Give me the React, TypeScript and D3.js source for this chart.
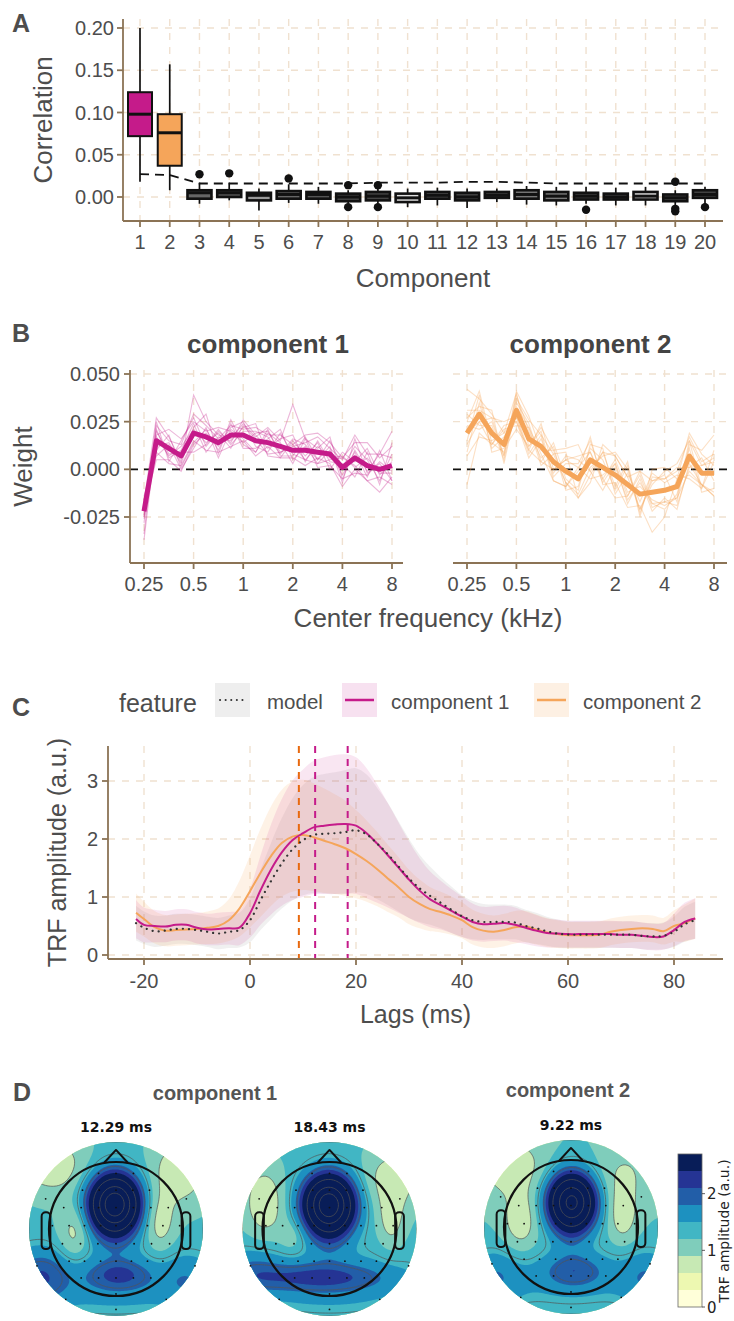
import React from 'react';
import * as d3 from 'd3';

const SANS = 'Liberation Sans, Arial, Helvetica, sans-serif';
const MPL = 'DejaVu Sans, sans-serif';
const TXT = '#4d4d4d';
const AXIS = '#8b7355';
const GRID = '#f0e1d0';
const MAGENTA = '#c51b8a';
const ORANGE = '#f5a55a';
const ORANGE_DARK = '#e8690f';

// ---- A: correlation per component
const components = [1, 2, 3, 4, 5, 6, 7, 8, 9, 10, 11, 12, 13, 14, 15, 16, 17, 18, 19, 20];
const corrLow = [0.018, 0.008, -0.008, -0.004, -0.016, -0.007, -0.008, -0.008, -0.008, -0.012, -0.01, -0.013, -0.006, -0.009, -0.01, -0.008, -0.01, -0.01, -0.01, -0.009];
const corrQ1 = [0.072, 0.037, -0.002, 0.0, -0.004, -0.002, -0.002, -0.005, -0.004, -0.006, -0.002, -0.004, -0.001, -0.002, -0.004, -0.003, -0.003, -0.003, -0.005, -0.001];
const corrMedian = [0.098, 0.076, 0.005, 0.005, 0.002, 0.003, 0.003, 0.0, 0.001, -0.001, 0.002, 0.0, 0.002, 0.003, 0.001, 0.001, 0.0, 0.001, -0.001, 0.003];
const corrQ3 = [0.124, 0.098, 0.008, 0.008, 0.005, 0.007, 0.006, 0.004, 0.006, 0.004, 0.006, 0.005, 0.006, 0.008, 0.006, 0.005, 0.004, 0.006, 0.003, 0.008];
const corrHigh = [0.2, 0.157, 0.017, 0.017, 0.01, 0.015, 0.012, 0.008, 0.01, 0.01, 0.011, 0.01, 0.01, 0.013, 0.012, 0.012, 0.011, 0.012, 0.008, 0.012];
const boxFills = [MAGENTA, ORANGE, '#666', '#555', '#999', '#666', '#555', '#444', '#444', '#e0e0e0', '#555', '#444', '#444', '#777', '#777', '#444', '#444', '#d9d9d9', '#444', '#444'];
const outlierComp = [3, 4, 6, 8, 8, 9, 9, 16, 19, 19, 19, 20];
const outlierVal = [0.027, 0.028, 0.022, 0.014, -0.012, 0.014, -0.012, -0.015, 0.018, -0.014, -0.017, -0.012];
const chanceLevel = [0.027, 0.026, 0.016, 0.016, 0.016, 0.016, 0.016, 0.016, 0.017, 0.017, 0.017, 0.018, 0.018, 0.017, 0.016, 0.016, 0.016, 0.016, 0.016, 0.016];
const corrTicks = [0, 0.05, 0.1, 0.15, 0.2];

// ---- B: spectral weights
const freqs = [0.25, 0.297, 0.354, 0.42, 0.5, 0.595, 0.707, 0.841, 1, 1.19, 1.41, 1.68, 2, 2.38, 2.83, 3.36, 4, 4.76, 5.66, 6.73, 8];
const freqTicks = [0.25, 0.5, 1, 2, 4, 8];
const weightTicks = [-0.025, 0, 0.025, 0.05];
const weightMean1 = [-0.022, 0.015, 0.011, 0.007, 0.019, 0.017, 0.014, 0.018, 0.018, 0.015, 0.014, 0.012, 0.01, 0.01, 0.009, 0.008, 0.001, 0.006, 0.002, 0.0, 0.002];
const weightMean2 = [0.019, 0.029, 0.019, 0.013, 0.031, 0.016, 0.012, 0.004, -0.001, -0.005, 0.005, 0.001, -0.003, -0.008, -0.013, -0.012, -0.011, -0.009, 0.007, -0.002, -0.002];
// single subjects, deviation from the mean in 1e-3
const subjDev1 = [
  [-12, 8, 4, 6, 10, 6, 2, 5, 3, 7, 4, 6, 3, 8, 10, 6, 5, 8, 12, 6, 10],
  [5, 12, 6, -3, 20, 8, 4, -2, 6, 2, 8, 3, 24, 6, 2, 9, -6, 4, -3, 8, 18],
  [8, -6, -8, -5, -4, -7, -5, -6, -3, -8, -2, -6, -4, -8, -3, -5, -10, -6, -8, -12, -6],
  [-4, 3, 10, 9, 6, 3, 8, 2, -4, 4, 6, -3, 2, 4, 8, 3, 4, 12, 6, 8, 4],
  [2, -10, -6, -8, -6, 2, -2, 4, 7, -3, -5, 7, -2, -5, -6, -3, 5, -4, -8, -4, -10],
  [-6, 5, -3, 2, -10, -4, 7, -5, 2, 5, 3, -4, 6, 3, -4, 7, 0, 6, 3, -6, 6],
  [6, -3, 3, -4, 3, 12, -6, 8, -5, -6, 5, 2, -7, 6, -8, -6, -6, -8, -5, 4, -3],
  [-2, 6, -5, 3, 5, -8, 3, -3, 4, 9, -7, -6, 5, -3, 5, -8, 8, -2, 9, -3, 2],
  [4, -5, 7, -6, -5, 4, -4, 6, -7, -4, 2, 9, -5, 2, -6, 2, -4, 3, -6, 10, -8],
  [-15, 2, -4, 5, 2, -3, 5, -7, 5, 1, -6, -3, 3, -5, 3, -2, 6, -5, 4, -2, -4],
  [6, -8, 2, -7, -8, 5, -8, 3, -2, -6, 7, -5, -3, 7, -4, 4, -8, 10, -4, 3, -8],
  [-3, 10, -7, 8, 8, -5, 6, -4, 8, 3, -3, 4, 8, -6, 6, -4, 2, -10, 7, -8, 12],
];
const subjDev2 = [
  [23, 8, 10, 6, 9, -4, 10, 6, 12, 18, -6, 8, 10, 4, 12, 6, 8, -8, 6, 12, 20],
  [-27, -10, -6, 8, -8, 6, -4, -10, -8, 4, 12, -9, -4, -12, -6, -21, -14, 4, -10, -6, -12],
  [6, 12, -5, -4, 6, 10, 6, 4, -6, -8, -4, 6, 12, 8, -8, 4, 10, 12, 8, 4, 6],
  [-6, -4, 8, 12, -3, -6, 12, -4, 6, 6, -10, -4, 6, -6, 10, -8, -6, -10, -6, 8, -4],
  [10, -6, 4, -8, 4, 8, -8, 10, -4, -6, 8, 10, -10, 6, -4, 10, 4, 6, -12, -8, 6],
  [-10, 6, -8, 4, -6, -10, 4, -6, 8, 10, -6, -12, 4, -8, 6, -6, -10, -4, 4, -10, -8],
  [4, -8, 6, -6, 8, 4, -6, 8, -10, -4, 6, 4, -8, 10, -10, 8, 6, 8, 10, 6, 10],
  [-4, 10, -10, -2, -10, -4, 8, -8, 4, 8, 10, -6, 8, -4, 4, -4, -8, -6, -8, -6, -10],
  [8, 4, 12, -10, 2, 6, -10, 4, 10, -10, -8, 8, -6, 12, -12, 12, 12, 4, 12, 10, 4],
  [-12, -12, -4, 6, -4, -8, 6, -10, -8, 6, 4, -8, 6, -10, 8, -10, -4, -12, -4, -6, -12],
  [12, 2, 8, -6, 10, 12, -2, 6, -6, -10, -12, 12, 10, 4, -8, 6, 6, 10, -6, 4, 8],
  [0, -4, -6, 10, -6, -6, -8, -4, 6, 12, 4, -6, -12, -6, 12, -6, -6, -6, 8, -8, 12],
];

// ---- C: TRFs
const lags = [-21.5, -20, -18, -16, -14, -12, -10, -8, -6, -4, -2, 0, 2, 4, 6, 8, 10, 12, 14, 16, 18, 20, 22, 24, 26, 28, 30, 32, 34, 36, 38, 40, 42, 44, 46, 48, 50, 52, 54, 56, 58, 60, 62, 64, 66, 68, 70, 72, 74, 76, 78, 80, 82, 84];
const trfModel = [0.55, 0.47, 0.41, 0.42, 0.45, 0.45, 0.43, 0.4, 0.37, 0.4, 0.43, 0.6, 0.95, 1.28, 1.58, 1.82, 1.98, 2.07, 2.09, 2.1, 2.12, 2.15, 2.08, 1.92, 1.74, 1.53, 1.32, 1.15, 1.02, 0.9, 0.78, 0.67, 0.6, 0.57, 0.57, 0.57, 0.56, 0.5, 0.46, 0.41, 0.37, 0.35, 0.35, 0.35, 0.35, 0.35, 0.35, 0.35, 0.33, 0.32, 0.33, 0.4, 0.53, 0.6];
const sdModel = [0.3, 0.28, 0.27, 0.26, 0.26, 0.26, 0.26, 0.26, 0.27, 0.28, 0.3, 0.38, 0.52, 0.66, 0.78, 0.88, 0.95, 1.0, 1.03, 1.05, 1.07, 1.07, 1.03, 0.96, 0.88, 0.78, 0.68, 0.58, 0.5, 0.44, 0.4, 0.36, 0.33, 0.31, 0.3, 0.3, 0.29, 0.28, 0.27, 0.25, 0.24, 0.23, 0.23, 0.23, 0.23, 0.23, 0.23, 0.23, 0.23, 0.23, 0.23, 0.26, 0.3, 0.32];
const trfComp1 = [0.62, 0.52, 0.5, 0.49, 0.52, 0.52, 0.47, 0.44, 0.45, 0.46, 0.47, 0.72, 1.12, 1.48, 1.77, 1.98, 2.1, 2.2, 2.23, 2.25, 2.26, 2.23, 2.1, 1.92, 1.72, 1.51, 1.3, 1.11, 0.96, 0.86, 0.76, 0.66, 0.57, 0.53, 0.54, 0.55, 0.52, 0.47, 0.42, 0.38, 0.37, 0.36, 0.36, 0.36, 0.36, 0.36, 0.35, 0.35, 0.33, 0.31, 0.32, 0.43, 0.57, 0.63];
const sdComp1 = [0.33, 0.3, 0.28, 0.27, 0.27, 0.27, 0.27, 0.27, 0.28, 0.28, 0.3, 0.42, 0.6, 0.78, 0.92, 1.03, 1.1, 1.15, 1.18, 1.2, 1.2, 1.18, 1.12, 1.02, 0.9, 0.78, 0.66, 0.56, 0.48, 0.42, 0.38, 0.35, 0.32, 0.3, 0.3, 0.3, 0.3, 0.28, 0.27, 0.25, 0.24, 0.23, 0.23, 0.23, 0.23, 0.23, 0.23, 0.23, 0.23, 0.23, 0.23, 0.28, 0.33, 0.35];
const trfComp2 = [0.73, 0.62, 0.48, 0.42, 0.43, 0.44, 0.45, 0.47, 0.5, 0.6, 0.8, 1.1, 1.42, 1.71, 1.93, 2.04, 2.07, 2.03, 1.97, 1.91, 1.84, 1.74, 1.62, 1.48, 1.32, 1.17, 1.0, 0.88, 0.79, 0.74, 0.68, 0.6, 0.48, 0.42, 0.4, 0.43, 0.48, 0.49, 0.44, 0.39, 0.36, 0.34, 0.34, 0.34, 0.35, 0.4, 0.43, 0.45, 0.46, 0.45, 0.41, 0.5, 0.55, 0.63];
const sdComp2 = [0.33, 0.3, 0.28, 0.27, 0.27, 0.27, 0.27, 0.28, 0.3, 0.36, 0.48, 0.62, 0.76, 0.86, 0.92, 0.95, 0.95, 0.93, 0.9, 0.86, 0.82, 0.76, 0.7, 0.64, 0.58, 0.52, 0.47, 0.42, 0.38, 0.35, 0.33, 0.31, 0.3, 0.29, 0.28, 0.28, 0.28, 0.27, 0.26, 0.25, 0.24, 0.23, 0.23, 0.23, 0.23, 0.23, 0.23, 0.23, 0.23, 0.23, 0.23, 0.27, 0.32, 0.35];
const peakLags = [9.22, 12.29, 18.43];
const peakColors = [ORANGE_DARK, MAGENTA, MAGENTA];
const lagTicks = [-20, 0, 20, 40, 60, 80];
const ampTicks = [0, 1, 2, 3];
const legendLabels = ['model', 'component 1', 'component 2'];

// ---- D: topographies (field = base + gaussian bumps: cx, cy, amp, sx, sy in head radii)
const topoTitles = ['12.29 ms', '18.43 ms', '9.22 ms'];
const topoBase = [1.25, 1.25, 1.2];
const topoBlobs = [
  [
    [-0.02, -0.37, 3.9, 0.256, 0.3], [0, 0.15, 0.15, 0.2, 0.25],
    [0, 0.78, 0.45, 0.9, 0.33], [0.05, 0.68, 0.55, 0.3, 0.15],
    [-1.15, 0.72, 0.7, 0.3, 0.3], [1.1, 0.8, 0.35, 0.28, 0.3],
    [-0.95, -0.95, -0.6, 0.35, 0.3], [0.95, -0.85, -0.6, 0.3, 0.35],
    [-0.62, 0.05, -0.5, 0.16, 0.3], [0.65, -0.1, -0.55, 0.16, 0.32],
  ],
  [
    [-0.01, -0.36, 3.9, 0.256, 0.3], [0, 0.15, 0.15, 0.2, 0.25],
    [0, 0.78, 0.42, 0.9, 0.33], [-0.2, 0.72, 0.6, 0.75, 0.15],
    [-1.15, 0.6, 0.4, 0.3, 0.25],
    [-0.97, -0.4, -0.65, 0.2, 0.35], [0.95, -0.75, -0.55, 0.3, 0.3],
    [0.92, -0.15, -0.5, 0.14, 0.3], [-0.55, 0.1, -0.3, 0.15, 0.2],
  ],
  [
    [0.01, -0.37, 3.6, 0.24, 0.29], [0, 0.15, 0.15, 0.2, 0.25],
    [0, 0.78, 0.35, 0.8, 0.33], [0.05, 0.65, 0.55, 0.32, 0.18],
    [-1.15, 0.75, 0.5, 0.3, 0.3], [1.15, 0.75, 0.5, 0.3, 0.3],
    [-0.9, -0.9, -0.55, 0.35, 0.3], [0.8, -0.8, -0.3, 0.3, 0.3],
    [-0.75, -0.1, -0.55, 0.18, 0.32], [0.77, -0.2, -0.55, 0.15, 0.3],
  ],
];
const topoLines = [0.9, 1.4, 1.9, 3.0, 3.9, 4.6];
const sensorRows: [number, number[]][] = [
  [-0.83, [-0.26, 0, 0.26]],
  [-0.58, [-0.5, -0.25, 0, 0.25, 0.5]],
  [-0.32, [-0.78, -0.52, -0.26, 0, 0.26, 0.52, 0.78]],
  [-0.05, [-0.95, -0.7, -0.47, -0.23, 0, 0.23, 0.47, 0.7, 0.95]],
  [0.22, [-0.8, -0.53, -0.27, 0, 0.27, 0.53, 0.8]],
  [0.48, [-0.7, -0.47, -0.23, 0, 0.23, 0.47, 0.7]],
  [0.73, [-0.52, -0.26, 0, 0.26, 0.52]],
  [0.97, [-0.25, 0, 0.25]],
];
const extraSensors = [[-1.05, -0.45], [1.05, -0.45], [-1.18, 0.55], [1.18, 0.55], [-0.75, 1.05], [0.75, 1.05], [0, 1.2]];
const cbarLevels = [0, 0.3, 0.6, 0.9, 1.2, 1.5, 1.8, 2.1, 2.4, 2.7];
const cbarColors = ['#ffffd9', '#edf8b1', '#c7e9b4', '#7fcdbb', '#41b6c4', '#1d91c0', '#225ea8', '#253494', '#081d58'];
const cbarTicks = [0, 1, 2];

const grid = { stroke: GRID, strokeWidth: 1.4, strokeDasharray: '7,7' };
const axisLine = { stroke: AXIS, strokeWidth: 1.8 };

function PanelA() {
  const x = d3.scaleLinear().domain([1, 20]).range([140, 705]);
  const y = d3.scaleLinear().domain([0, 0.2]).range([197, 28]);
  const left = 123, right = 723, top = 19, bottom = 221;
  const bw = 24;
  const chance = d3.line<number>().x((_, i) => x(components[i])).y((d) => y(d));
  return (
    <g>
      <text x={12} y={32} fontSize={25} fontWeight="bold" fill={TXT}>A</text>
      {corrTicks.map((t) => <line key={t} x1={left} x2={right} y1={y(t)} y2={y(t)} {...grid} />)}
      {components.map((c) => <line key={c} x1={x(c)} x2={x(c)} y1={top} y2={bottom} {...grid} />)}
      {components.map((c, i) => (
        <g key={c}>
          <line x1={x(c)} x2={x(c)} y1={y(corrHigh[i])} y2={y(corrLow[i])} stroke="#111" strokeWidth={1.7} />
          <rect x={x(c) - bw / 2} width={bw} y={y(corrQ3[i])} height={y(corrQ1[i]) - y(corrQ3[i])} fill={boxFills[i]} stroke="#111" strokeWidth={i < 2 ? 2 : 2.6} />
          <line x1={x(c) - bw / 2} x2={x(c) + bw / 2} y1={y(corrMedian[i])} y2={y(corrMedian[i])} stroke="#111" strokeWidth={3} />
        </g>
      ))}
      {outlierComp.map((c, i) => <circle key={i} cx={x(c)} cy={y(outlierVal[i])} r={4.2} fill="#111" />)}
      <path d={chance(chanceLevel) || ''} fill="none" stroke="#111" strokeWidth={1.8} strokeDasharray="9,6" />
      <line x1={left} x2={left} y1={top} y2={bottom} {...axisLine} />
      <line x1={left} x2={right} y1={bottom} y2={bottom} {...axisLine} />
      {corrTicks.map((t) => (
        <g key={t}>
          <line x1={left - 6} x2={left} y1={y(t)} y2={y(t)} {...axisLine} />
          <text x={left - 9} y={y(t) + 7} fontSize={20} textAnchor="end" fill={TXT}>{t.toFixed(2)}</text>
        </g>
      ))}
      {components.map((c) => (
        <g key={c}>
          <line x1={x(c)} x2={x(c)} y1={bottom} y2={bottom + 6} {...axisLine} />
          <text x={x(c)} y={249} fontSize={20} textAnchor="middle" fill={TXT}>{c}</text>
        </g>
      ))}
      <text x={(left + right) / 2} y={287} fontSize={26} textAnchor="middle" fill={TXT}>Component</text>
      <text transform={`translate(52,${(top + bottom) / 2}) rotate(-90)`} fontSize={26} textAnchor="middle" fill={TXT}>Correlation</text>
    </g>
  );
}

function PanelB() {
  const y = d3.scaleLinear().domain([-0.025, 0.05]).range([517, 374]);
  const top = 370, bottom = 563;
  const panels = [
    { x0: 130, x1: 403, r: [144, 392], title: 'component 1', mean: weightMean1, devs: subjDev1, color: MAGENTA, op: 0.32 },
    { x0: 453, x1: 727, r: [467, 714], title: 'component 2', mean: weightMean2, devs: subjDev2, color: ORANGE, op: 0.35 },
  ];
  return (
    <g>
      <text x={12} y={342} fontSize={25} fontWeight="bold" fill={TXT}>B</text>
      {panels.map((p, k) => {
        const x = d3.scaleLog().base(2).domain([0.25, 8]).range(p.r);
        const line = d3.line<number>().x((_, i) => x(freqs[i])).y((d) => y(d));
        return (
          <g key={k}>
            {weightTicks.map((t) => <line key={t} x1={p.x0} x2={p.x1} y1={y(t)} y2={y(t)} {...grid} />)}
            {freqTicks.map((f) => <line key={f} x1={x(f)} x2={x(f)} y1={top} y2={bottom} {...grid} />)}
            <line x1={p.x0} x2={p.x1} y1={y(0)} y2={y(0)} stroke="#111" strokeWidth={1.8} strokeDasharray="8,6" />
            {p.devs.map((dv, s) => (
              <path key={s} d={line(p.mean.map((m, i) => m + dv[i] / 1000)) || ''} fill="none" stroke={p.color} strokeOpacity={p.op} strokeWidth={1.1} />
            ))}
            <path d={line(p.mean) || ''} fill="none" stroke={p.color} strokeWidth={5} strokeLinejoin="round" />
            <line x1={p.x0} x2={p.x1} y1={bottom} y2={bottom} {...axisLine} />
            {freqTicks.map((f) => (
              <g key={f}>
                <line x1={x(f)} x2={x(f)} y1={bottom} y2={bottom + 6} {...axisLine} />
                <text x={x(f)} y={591} fontSize={20} textAnchor="middle" fill={TXT}>{f}</text>
              </g>
            ))}
            <text x={(p.r[0] + p.r[1]) / 2} y={353} fontSize={26} fontWeight="bold" textAnchor="middle" fill="#444">{p.title}</text>
          </g>
        );
      })}
      <line x1={130} x2={130} y1={top} y2={bottom} {...axisLine} />
      {weightTicks.map((t) => (
        <g key={t}>
          <line x1={124} x2={130} y1={y(t)} y2={y(t)} {...axisLine} />
          <text x={120} y={y(t) + 7} fontSize={20} textAnchor="end" fill={TXT}>{t.toFixed(3)}</text>
        </g>
      ))}
      <text x={428} y={627} fontSize={26} textAnchor="middle" fill={TXT}>Center frequency (kHz)</text>
      <text transform={`translate(32,${(top + bottom) / 2}) rotate(-90)`} fontSize={26} textAnchor="middle" fill={TXT}>Weight</text>
    </g>
  );
}

function PanelC() {
  const x = d3.scaleLinear().domain([-20, 80]).range([144, 674]);
  const y = d3.scaleLinear().domain([0, 3]).range([955, 781]);
  const left = 108, right = 723, top = 746, bottom = 959;
  const line = d3.line<number>().x((_, i) => x(lags[i])).y((d) => y(d)).curve(d3.curveCatmullRom);
  const band = (m: number[], sd: number[]) =>
    d3.area<number>().x((_, i) => x(lags[i])).y0((d, i) => y(d - sd[i])).y1((d, i) => y(d + sd[i])).curve(d3.curveCatmullRom)(m) || '';
  const series = [
    { mean: trfModel, sd: sdModel, color: '#444', fill: '#8a8a8a', op: 0.13 },
    { mean: trfComp2, sd: sdComp2, color: ORANGE, fill: ORANGE, op: 0.15 },
    { mean: trfComp1, sd: sdComp1, color: MAGENTA, fill: MAGENTA, op: 0.11 },
  ];
  const keyX = [215, 342, 534];
  const labX = [267, 391, 583];
  const keyStyle = [series[0], series[2], series[1]];
  return (
    <g>
      <text x={12} y={716} fontSize={25} fontWeight="bold" fill={TXT}>C</text>
      <text x={119} y={712} fontSize={25} fill={TXT}>feature</text>
      {legendLabels.map((l, i) => (
        <g key={l}>
          <rect x={keyX[i]} y={683} width={35} height={34} fill={keyStyle[i].fill} fillOpacity={keyStyle[i].op + 0.02} />
          {i === 0 ? (
            <line x1={keyX[i] + 5} x2={keyX[i] + 31} y1={700} y2={700} stroke="#333" strokeWidth={2} strokeDasharray="0.1,5.5" strokeLinecap="round" />
          ) : (
            <line x1={keyX[i] + 3} x2={keyX[i] + 32} y1={700} y2={700} stroke={keyStyle[i].color} strokeWidth={2.5} />
          )}
          <text x={labX[i]} y={709} fontSize={20.5} fill={TXT}>{l}</text>
        </g>
      ))}
      {ampTicks.map((t) => <line key={t} x1={left} x2={right} y1={y(t)} y2={y(t)} {...grid} />)}
      {lagTicks.map((t) => <line key={t} x1={x(t)} x2={x(t)} y1={top} y2={bottom} {...grid} />)}
      {series.map((s, i) => <path key={i} d={band(s.mean, s.sd)} fill={s.fill} fillOpacity={s.op} stroke="none" />)}
      {peakLags.map((l, i) => (
        <line key={l} x1={x(l)} x2={x(l)} y1={top} y2={bottom} stroke={peakColors[i]} strokeWidth={2} strokeDasharray="7,6" />
      ))}
      <path d={line(trfComp2) || ''} fill="none" stroke={ORANGE} strokeWidth={2} />
      <path d={line(trfComp1) || ''} fill="none" stroke={MAGENTA} strokeWidth={2} />
      <path d={line(trfModel) || ''} fill="none" stroke="#333" strokeWidth={2.2} strokeDasharray="0.1,6" strokeLinecap="round" />
      <line x1={left} x2={left} y1={top} y2={bottom} {...axisLine} />
      <line x1={left} x2={right} y1={bottom} y2={bottom} {...axisLine} />
      {ampTicks.map((t) => (
        <g key={t}>
          <line x1={left - 6} x2={left} y1={y(t)} y2={y(t)} {...axisLine} />
          <text x={98} y={y(t) + 7} fontSize={20} textAnchor="end" fill={TXT}>{t}</text>
        </g>
      ))}
      {lagTicks.map((t) => (
        <g key={t}>
          <line x1={x(t)} x2={x(t)} y1={bottom} y2={bottom + 6} {...axisLine} />
          <text x={x(t)} y={988} fontSize={20} textAnchor="middle" fill={TXT}>{t}</text>
        </g>
      ))}
      <text x={(left + right) / 2} y={1023} fontSize={25} textAnchor="middle" fill={TXT}>Lags (ms)</text>
      <text transform={`translate(66,${(top + bottom) / 2}) rotate(-90)`} fontSize={25} textAnchor="middle" fill={TXT}>TRF amplitude (a.u.)</text>
    </g>
  );
}

function Topomap({ idx, cx, cy }: { idx: number; cx: number; cy: number }) {
  const R = 67;
  const RD = 87;
  const ext = RD / R;
  const n = 110;
  const values: number[] = new Array(n * n);
  for (let j = 0; j < n; j++) {
    for (let i = 0; i < n; i++) {
      const u = -ext + ((i + 0.5) / n) * 2 * ext;
      const v = -ext + ((j + 0.5) / n) * 2 * ext;
      let f = topoBase[idx];
      for (const [bx, by, a, sx, sy] of topoBlobs[idx]) {
        f += a * Math.exp(-((u - bx) ** 2) / (2 * sx * sx) - ((v - by) ** 2) / (2 * sy * sy));
      }
      values[j * n + i] = f;
    }
  }
  const bands = d3.contours().size([n, n]).thresholds(cbarLevels.slice(1, 9))(values);
  const lines = d3.contours().size([n, n]).thresholds(topoLines)(values);
  const proj = d3.geoIdentity().scale((2 * RD) / n).translate([cx - RD, cy - RD]);
  const path = d3.geoPath(proj);
  const clipId = `topo-clip-${idx}`;
  const px = (u: number) => cx + u * R;
  const py = (v: number) => cy + v * R;
  return (
    <g>
      <defs>
        <clipPath id={clipId}>
          <circle cx={cx} cy={cy} r={RD} />
        </clipPath>
      </defs>
      <g clipPath={`url(#${clipId})`}>
        <circle cx={cx} cy={cy} r={RD} fill={cbarColors[0]} />
        {bands.map((b, k) => <path key={k} d={path(b) || ''} fill={cbarColors[k + 1]} />)}
        {lines.map((b, k) => <path key={k} d={path(b) || ''} fill="none" stroke="#555" strokeWidth={0.7} />)}
      </g>
      {sensorRows.map(([v, us]) => us.map((u) => <circle key={`${v}_${u}`} cx={px(u)} cy={py(v)} r={0.9} fill="#111" />))}
      {extraSensors.map(([u, v]) => <circle key={`e${u}_${v}`} cx={px(u)} cy={py(v)} r={0.9} fill="#111" />)}
      <path d={`M${px(-0.18)},${py(-0.985)} L${px(0)},${py(-1.18)} L${px(0.18)},${py(-0.985)}`} fill="none" stroke="#111" strokeWidth={2} strokeLinejoin="round" />
      <rect x={px(-1.11)} y={py(-0.25)} width={0.13 * R} height={0.55 * R} rx={0.06 * R} fill="none" stroke="#111" strokeWidth={2} />
      <rect x={px(0.98)} y={py(-0.25)} width={0.13 * R} height={0.55 * R} rx={0.06 * R} fill="none" stroke="#111" strokeWidth={2} />
      <circle cx={cx} cy={cy} r={R} fill="none" stroke="#111" strokeWidth={2.2} />
    </g>
  );
}

function PanelD() {
  const centers = [[116, 1229], [329.5, 1229], [571, 1227]];
  const yc = d3.scaleLinear().domain([0, 2.7]).range([1307, 1154]);
  return (
    <g>
      <text x={13} y={1101} fontSize={25} fontWeight="bold" fill={TXT}>D</text>
      <text x={215} y={1100} fontSize={20} fontWeight="bold" textAnchor="middle" fill="#555">component 1</text>
      <text x={568} y={1097} fontSize={20} fontWeight="bold" textAnchor="middle" fill="#555">component 2</text>
      {centers.map(([cx, cy], i) => (
        <g key={i}>
          <text x={cx} y={cy - 97} fontSize={14} fontWeight="bold" fontFamily={MPL} textAnchor="middle" fill="#111">{topoTitles[i]}</text>
          <Topomap idx={i} cx={cx} cy={cy} />
        </g>
      ))}
      {cbarColors.map((c, k) => (
        <rect key={c} x={678} width={24} y={yc(cbarLevels[k + 1])} height={yc(cbarLevels[k]) - yc(cbarLevels[k + 1])} fill={c} />
      ))}
      <rect x={678} width={24} y={yc(2.7)} height={yc(0) - yc(2.7)} fill="none" stroke="#666" strokeWidth={0.8} />
      {cbarTicks.map((t) => (
        <g key={t}>
          <line x1={702} x2={705} y1={yc(t)} y2={yc(t)} stroke="#333" strokeWidth={0.8} />
          <text x={707} y={yc(t) + 5.5} fontSize={15} fontFamily={MPL} fill="#222">{t}</text>
        </g>
      ))}
      <text transform="translate(729,1231) rotate(-90)" fontSize={14} fontFamily={MPL} textAnchor="middle" fill="#222">TRF amplitude (a.u.)</text>
    </g>
  );
}

export default function App() {
  return (
    <svg width={734} height={1321} viewBox="0 0 734 1321" fontFamily={SANS} style={{ position: 'absolute', left: 0, top: 0, display: 'block' }}>
      <rect width={734} height={1321} fill="#fff" />
      <PanelA />
      <PanelB />
      <PanelC />
      <PanelD />
    </svg>
  );
}
